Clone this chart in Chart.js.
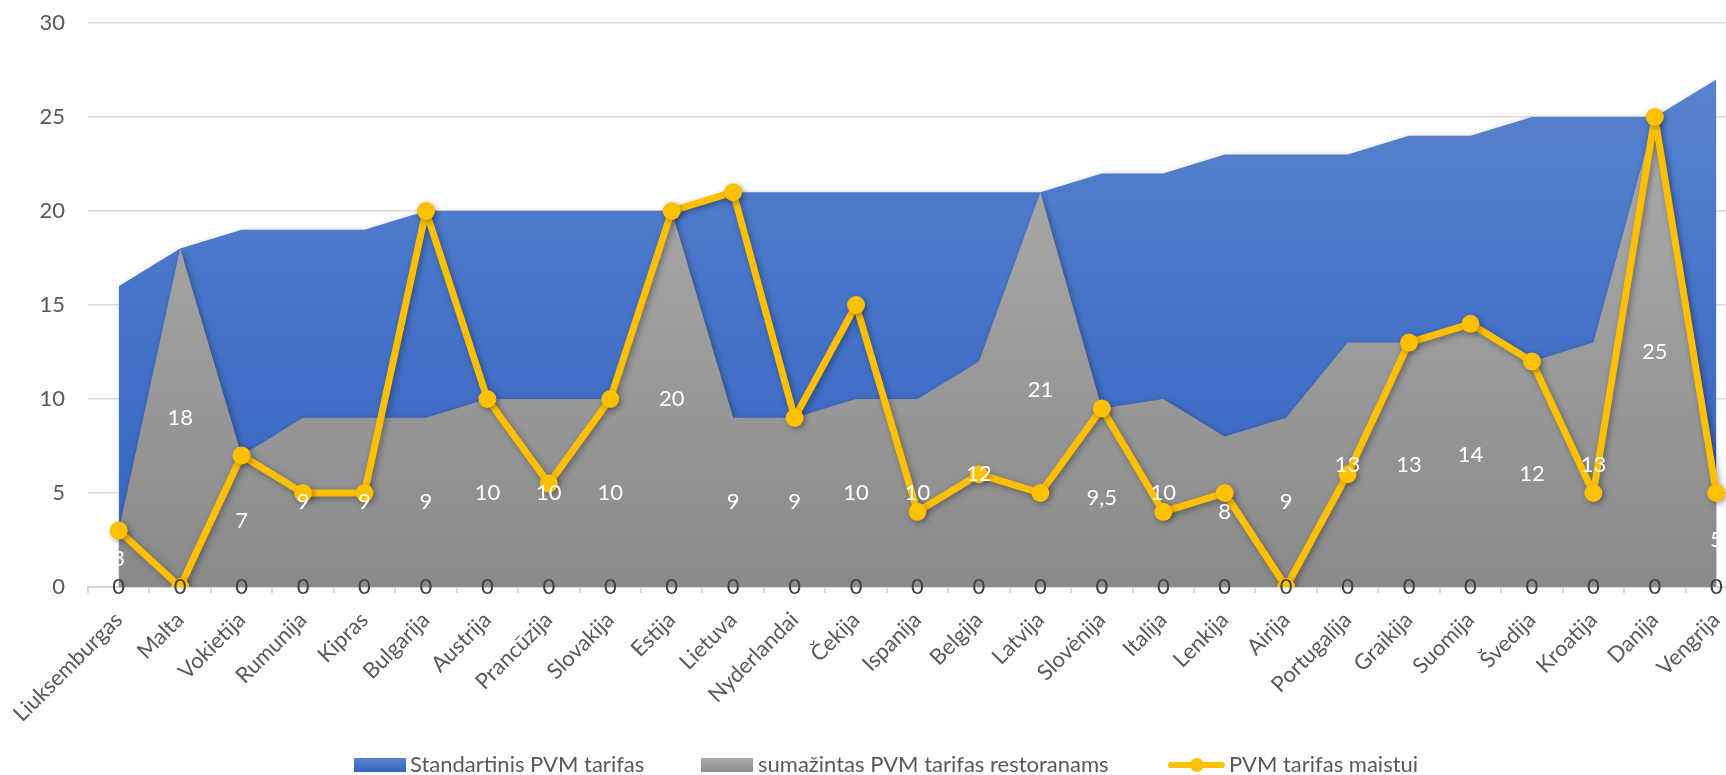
<!DOCTYPE html>
<html>
<head>
<meta charset="utf-8">
<script src="https://cdn.jsdelivr.net/npm/chart.js@4.4.1/dist/chart.umd.min.js"></script>
<style>
  html, body { margin: 0; padding: 0; background: #fff; overflow: hidden; width: 1726px; height: 775px; }
  #wrap { position: relative; width: 1760px; height: 775px; }
  #legend { position: absolute; left: 0; top: 0; width: 1726px; height: 775px; pointer-events: none;
            font-family: Lato, "Open Sans", sans-serif; font-size: 22px; color: #595959; }
  .sw { position: absolute; top: 758px; width: 52px; height: 14px; }
  .lt { position: absolute; top: 751px; line-height: 26px; white-space: nowrap; }
  .ln { position: absolute; top: 762px; width: 57px; height: 6px; background: #ffc000; border-radius: 3px; }
  .dot { position: absolute; top: 758px; width: 14px; height: 14px; border-radius: 50%; background: #ffc000; }
</style>
</head>
<body>
<div id="wrap">
  <canvas id="chart" width="1760" height="775"></canvas>
  <div id="legend">
    <div class="sw" style="left:354px;background:linear-gradient(#5a84cf,#3464c0)"></div>
    <div class="lt" style="left:410px">Standartinis PVM tarifas</div>
    <div class="sw" style="left:701px;background:linear-gradient(#ababab,#8c8c8c)"></div>
    <div class="lt" style="left:758px">sumažintas PVM tarifas restoranams</div>
    <div class="ln" style="left:1168px"></div>
    <div class="dot" style="left:1190px"></div>
    <div class="lt" style="left:1229px">PVM tarifas maistui</div>
  </div>
</div>
<script>
const countries = ["Liuksemburgas", "Malta", "Vokietija", "Rumunija", "Kipras", "Bulgarija", "Austrija",
  "Prancūzija", "Slovakija", "Estija", "Lietuva", "Nyderlandai", "Čekija", "Ispanija", "Belgija",
  "Latvija", "Slovėnija", "Italija", "Lenkija", "Airija", "Portugalija", "Graikija", "Suomija",
  "Švedija", "Kroatija", "Danija", "Vengrija"];

const standardRate = [16, 18, 19, 19, 19, 20, 20, 20, 20, 20, 21, 21, 21, 21, 21, 21, 22, 22, 23, 23, 23, 24, 24, 25, 25, 25, 27];
const restaurantRate = [3, 18, 7, 9, 9, 9, 10, 10, 10, 20, 9, 9, 10, 10, 12, 21, 9.5, 10, 8, 9, 13, 13, 14, 12, 13, 25, 5];
const foodRate = [3, 0, 7, 5, 5, 20, 10, 5.5, 10, 20, 21, 9, 15, 4, 6, 5, 9.5, 4, 5, 0, 6, 13, 14, 12, 5, 25, 5];
// labels shown on the axis line (values of an empty series)
const baseLabels = [0, 0, 0, 0, 0, 0, 0, 0, 0, 0, 0, 0, 0, 0, 0, 0, 0, 0, 0, 0, 0, 0, 0, 0, 0, 0, 0];

const FONT = 'Lato, "Open Sans", sans-serif';

function gradient(top, bottom) {
  return function (context) {
    const chart = context.chart;
    const area = chart.chartArea;
    if (!area) return bottom;
    const g = chart.ctx.createLinearGradient(0, area.top, 0, area.bottom);
    g.addColorStop(0, top);
    g.addColorStop(1, bottom);
    return g;
  };
}

function fmt(v) {
  return String(v).replace(".", ",");
}

// soft drop shadow like the office chart effect
const shadowPlugin = {
  id: "shadow",
  beforeDatasetsDraw(chart) {
    const c = chart.ctx;
    c.save();
    c.shadowColor = "rgba(0,0,0,0.35)";
    c.shadowBlur = 6;
    c.shadowOffsetX = 2;
    c.shadowOffsetY = 2;
  },
  afterDatasetsDraw(chart) {
    chart.ctx.restore();
  },
};

const labelPlugin = {
  id: "labels",
  afterDraw(chart) {
    const c = chart.ctx;
    const xs = chart.scales.x;
    const ys = chart.scales.y;
    c.save();
    c.font = "22px " + FONT;
    c.textAlign = "center";
    c.textBaseline = "middle";
    c.fillStyle = "#ffffff";
    restaurantRate.forEach((v, i) => {
      c.fillText(fmt(v), xs.getPixelForValue(i), ys.getPixelForValue(v / 2));
    });
    c.fillStyle = "#404040";
    baseLabels.forEach((v, i) => {
      c.fillText(fmt(v), xs.getPixelForValue(i), ys.getPixelForValue(v));
    });
    c.restore();
  },
};

new Chart(document.getElementById("chart"), {
  type: "line",
  data: {
    labels: countries,
    datasets: [
      {
        label: "Standartinis PVM tarifas",
        data: standardRate,
        fill: "origin",
        backgroundColor: gradient("#5b86d0", "#3262bf"),
        borderWidth: 0,
        pointRadius: 0,
        tension: 0,
        order: 3,
      },
      {
        label: "sumažintas PVM tarifas restoranams",
        data: restaurantRate,
        fill: "origin",
        backgroundColor: gradient("#b3b3b3", "#8a8a8a"),
        borderWidth: 0,
        pointRadius: 0,
        tension: 0,
        order: 2,
      },
      {
        label: "PVM tarifas maistui",
        data: foodRate,
        fill: false,
        borderColor: "#ffc000",
        borderWidth: 7,
        borderJoinStyle: "round",
        borderCapStyle: "round",
        pointRadius: 9,
        pointBackgroundColor: "#ffc000",
        pointBorderWidth: 0,
        tension: 0,
        order: 1,
      },
    ],
  },
  options: {
    responsive: false,
    animation: false,
    layout: { padding: { top: 23, right: 13, left: 0, bottom: 0 } },
    plugins: {
      legend: { display: false },
      tooltip: { enabled: false },
    },
    scales: {
      x: {
        offset: true,
        grid: {
          drawOnChartArea: false,
          drawTicks: true,
          tickLength: 6,
          color: "#d9d9d9",
          lineWidth: 2,
          offset: true,
        },
        border: { display: true, color: "#d9d9d9", width: 2 },
        ticks: {
          color: "#595959",
          font: { family: FONT, size: 22 },
          maxRotation: 45,
          minRotation: 45,
          autoSkip: false,
          padding: 14,
        },
        afterFit(scale) {
          scale.height = 188;
        },
      },
      y: {
        min: 0,
        max: 30,
        ticks: {
          stepSize: 5,
          color: "#595959",
          font: { family: FONT, size: 22 },
          padding: 23,
        },
        grid: { color: "#d9d9d9", lineWidth: 1.5, drawTicks: false },
        border: { display: false },
        afterFit(scale) {
          scale.width = 88;
          scale.paddingTop = 0;
          scale.paddingBottom = 0;
        },
      },
    },
  },
  plugins: [shadowPlugin, labelPlugin],
});
</script>
</body>
</html>
